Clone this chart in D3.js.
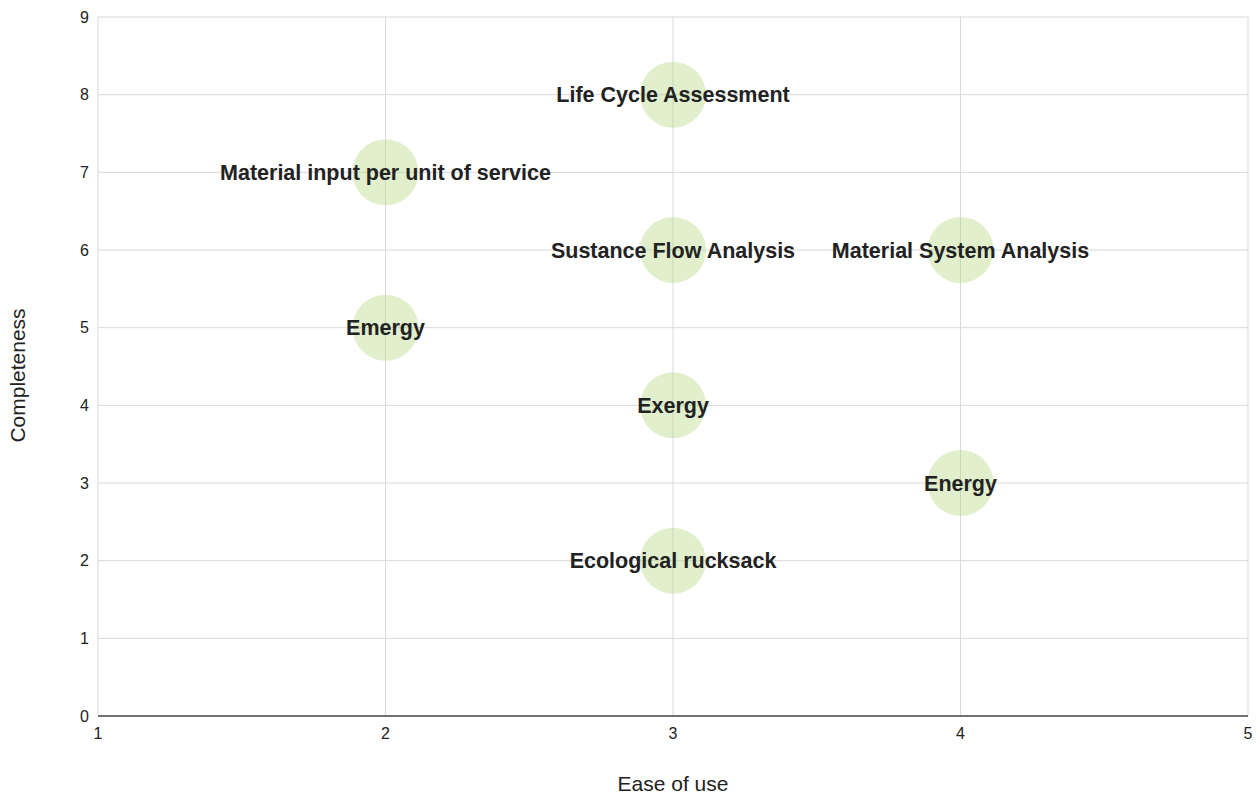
<!DOCTYPE html>
<html>
<head>
    <meta charset="utf-8">
    <title>Ease of use vs Completeness</title>
    <style>
        body { margin: 0; background: #fff; }
        #chart { width: 1260px; height: 796px; }
        text { font-family: "Liberation Sans", Arial, sans-serif; }
    </style>
    <script src="https://cdnjs.cloudflare.com/ajax/libs/d3/7.8.5/d3.min.js"></script>
</head>
<body>
    <div id="chart"></div>
    <script>
      // data
      const methods = ['Life Cycle Assessment', 'Material input per unit of service', 'Sustance Flow Analysis',
        'Material System Analysis', 'Emergy', 'Exergy', 'Energy', 'Ecological rucksack'];
      const easeOfUse = [3, 2, 3, 4, 2, 3, 4, 3];
      const completeness = [8, 7, 6, 6, 5, 4, 3, 2];
      const xTicks = [1, 2, 3, 4, 5];
      const yTicks = [0, 1, 2, 3, 4, 5, 6, 7, 8, 9];

      const margin = { top: 17, right: 12, bottom: 80, left: 98 };
      const width = 1260 - margin.left - margin.right;
      const height = 796 - margin.top - margin.bottom;

      const x = d3.scaleLinear().domain([1, 5]).range([0, width]);
      const y = d3.scaleLinear().domain([0, 9]).range([height, 0]);

      const svg = d3.select('#chart')
        .append('svg')
          .attr('width', 1260)
          .attr('height', 796);

      const chart = svg.append('g')
          .attr('transform', `translate(${margin.left}, ${margin.top})`);

      // grid
      chart.append('g')
        .selectAll('line')
        .data(yTicks.filter(d => d > 0))
        .join('line')
          .attr('x1', 0).attr('x2', width)
          .attr('y1', d => y(d)).attr('y2', d => y(d))
          .attr('stroke', '#d9d9d9');

      chart.append('g')
        .selectAll('line')
        .data(xTicks)
        .join('line')
          .attr('x1', d => x(d)).attr('x2', d => x(d))
          .attr('y1', 0).attr('y2', height)
          .attr('stroke', '#d9d9d9');

      // bubbles
      const pts = methods.map((m, i) => ({ name: m, ex: easeOfUse[i], c: completeness[i] }));

      chart.append('g')
        .selectAll('circle')
        .data(pts)
        .join('circle')
          .attr('cx', d => x(d.ex))
          .attr('cy', d => y(d.c))
          .attr('r', 33)
          .attr('fill', 'rgb(180,215,130)')
          .attr('fill-opacity', 0.4);

      chart.append('g')
        .selectAll('text')
        .data(pts)
        .join('text')
          .attr('x', d => x(d.ex))
          .attr('y', d => y(d.c))
          .attr('dy', '0.35em')
          .attr('text-anchor', 'middle')
          .style('font-size', '21.5px')
          .style('font-weight', 'bold')
          .style('fill', '#222')
          .text(d => d.name);

      // bottom axis line
      chart.append('line')
        .attr('x1', 0).attr('x2', width)
        .attr('y1', height).attr('y2', height)
        .attr('stroke', '#444')
        .attr('stroke-width', 1.5);

      // tick labels
      chart.append('g')
        .selectAll('text')
        .data(yTicks)
        .join('text')
          .attr('x', -9)
          .attr('y', d => y(d))
          .attr('dy', '0.35em')
          .attr('text-anchor', 'end')
          .style('font-size', '16px')
          .style('fill', '#222')
          .text(d => d);

      chart.append('g')
        .selectAll('text')
        .data(xTicks)
        .join('text')
          .attr('x', d => x(d))
          .attr('y', height + 23)
          .attr('text-anchor', 'middle')
          .style('font-size', '16px')
          .style('fill', '#222')
          .text(d => d);

      // axis titles
      svg.append('text')
        .attr('x', margin.left + width / 2)
        .attr('y', 791)
        .attr('text-anchor', 'middle')
        .style('font-size', '21px')
        .style('fill', '#222')
        .text('Ease of use');

      svg.append('text')
        .attr('transform', `translate(25, ${margin.top + height / 2 + 9}) rotate(-90)`)
        .attr('text-anchor', 'middle')
        .style('font-size', '21px')
        .style('fill', '#222')
        .text('Completeness');
    </script>
</body>
</html>
